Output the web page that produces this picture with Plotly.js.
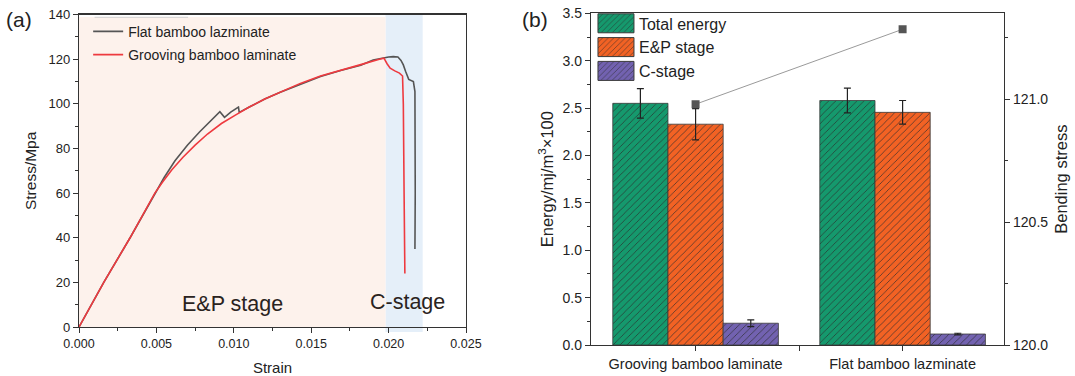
<!DOCTYPE html>
<html>
<head>
<meta charset="utf-8">
<script src="https://cdn.plot.ly/plotly-3.0.1.min.js"></script>
<style>
  html, body { margin: 0; padding: 0; background: #fff; }
  #chart { width: 1075px; height: 376px; }
</style>
</head>
<body>
<div id="chart"></div>
<script>
// ---- (a) stress-strain curves ----
const flatStrain = [0, 0.0016, 0.0033, 0.0049, 0.0055, 0.0062, 0.0070, 0.0078, 0.0085, 0.0091, 0.0094, 0.0098, 0.0103,
  0.01035, 0.0110, 0.0120, 0.0130, 0.0143, 0.0156, 0.0169, 0.0182, 0.0190, 0.0196, 0.0200, 0.0203, 0.0206, 0.0208,
  0.02095, 0.0211, 0.0213, 0.0216, 0.0217, 0.02172, 0.0217];
const flatStress = [0, 20, 40, 60, 67, 74.5, 81.5, 87.5, 92.3, 96.5, 94, 96.3, 98.6,
  96.2, 98.6, 102.2, 105.2, 108.9, 112.3, 115, 117.3, 119.7, 120.6, 121, 121.2, 121, 119.5,
  117.5, 114.5, 111, 110, 105.5, 60, 35];

const grooveStrain = [0, 0.0016, 0.0033, 0.0049, 0.0054, 0.0060, 0.0067, 0.0075, 0.0083, 0.0092, 0.0101, 0.0110,
  0.0120, 0.0130, 0.0143, 0.0156, 0.0169, 0.0182, 0.0194, 0.0197, 0.0199, 0.0201, 0.0204, 0.0207, 0.0209,
  0.02095, 0.0210, 0.02105];
const grooveStress = [0, 20, 40, 60, 65, 70.5, 76, 81.5, 86.5, 91.2, 95, 98.6,
  102.2, 105.4, 109.2, 112.5, 115.2, 117.6, 120, 120.5, 118, 116, 114.8, 113.8, 112.5,
  100, 60, 24];

// stage boundaries on the strain axis
const epStage = [0, 0.0198];
const cStage = [0.0198, 0.0222];

// ---- (b) energy bars and bending stress ----
const specimens = ['Grooving bamboo laminate', 'Flat bamboo lazminate'];
const totalEnergy = [2.55, 2.58];
const totalErr = [0.155, 0.13];
const epEnergy = [2.33, 2.455];
const epErr = [0.165, 0.125];
const cEnergy = [0.23, 0.116];
const cErr = [0.036, 0.008];
const bendingStress = [120.98, 121.285];

const FONT = 'Arial, "Liberation Sans", Helvetica, sans-serif';
const xIdx = specimens.map((_, i) => i);

function hatch(color) {
  return {
    color: color,
    line: { color: '#3a3a3a', width: 0.8 },
    pattern: { shape: '/', size: 5, solidity: 0.13, fgcolor: '#2b2b2b', bgcolor: color, fillmode: 'replace' }
  };
}
function errs(arr) {
  return { type: 'data', array: arr, visible: true, color: '#222', thickness: 1.2, width: 3.5 };
}

const traces = [
  {
    x: flatStrain, y: flatStress, xaxis: 'x', yaxis: 'y', mode: 'lines', legendgroup: 'flat',
    name: 'Flat bamboo lazminate', line: { color: '#555555', width: 1.6 }, legend: 'legend'
  },
  {
    x: grooveStrain, y: grooveStress, xaxis: 'x', yaxis: 'y', mode: 'lines', legendgroup: 'groove',
    name: 'Grooving bamboo laminate', line: { color: '#ee3a3f', width: 1.6 }, legend: 'legend'
  },
  {
    type: 'bar', x: xIdx, y: totalEnergy, error_y: errs(totalErr), xaxis: 'x2', yaxis: 'y2',
    name: 'Total energy', marker: hatch('#15996d'), legend: 'legend2'
  },
  {
    type: 'bar', x: xIdx, y: epEnergy, error_y: errs(epErr), xaxis: 'x2', yaxis: 'y2',
    name: 'E&P stage', marker: hatch('#f26224'), legend: 'legend2'
  },
  {
    type: 'bar', x: xIdx, y: cEnergy, error_y: errs(cErr), xaxis: 'x2', yaxis: 'y2',
    name: 'C-stage', marker: hatch('#7262b0'), legend: 'legend2'
  },
  {
    x: xIdx, y: bendingStress, xaxis: 'x2', yaxis: 'y3', mode: 'lines+markers',
    line: { color: '#9a9a9a', width: 1 }, marker: { symbol: 'square', size: 8, color: '#555' },
    showlegend: false
  }
];

const axisCommon = {
  showgrid: false, zeroline: false, showline: true, linecolor: '#333', linewidth: 1.2,
  ticks: 'outside', ticklen: 5, tickwidth: 1, tickcolor: '#333',
  tickfont: { family: FONT, size: 13, color: '#222' }, automargin: false
};

const layout = {
  width: 1075, height: 376,
  margin: { l: 0, r: 0, t: 0, b: 0 },
  paper_bgcolor: '#fff', plot_bgcolor: 'rgba(0,0,0,0)',
  font: { family: FONT, color: '#222' },
  barmode: 'group', bargap: 0.2, bargroupgap: 0,
  xaxis: Object.assign({}, axisCommon, {
    domain: [0.0735, 0.4335], anchor: 'y', range: [0, 0.025], dtick: 0.005, tickformat: '.3f',
    mirror: true, minor: { dtick: 0.0025, ticks: 'outside', ticklen: 3, tickcolor: '#333' },
    tickfont: { family: FONT, size: 12.5, color: '#222' },
    title: { text: 'Strain', font: { family: FONT, size: 15 }, standoff: 12 }
  }),
  yaxis: Object.assign({}, axisCommon, {
    domain: [0.1303, 0.961], anchor: 'x', range: [0, 140], dtick: 20, mirror: true,
    minor: { dtick: 10, ticks: 'outside', ticklen: 3, tickcolor: '#333' },
    title: { text: 'Stress/Mpa', font: { family: FONT, size: 15.5 }, standoff: 8 }
  }),
  xaxis2: Object.assign({}, axisCommon, {
    domain: [0.5498, 0.934], anchor: 'y2', range: [-0.505, 1.49],
    tickvals: [0, 0.5, 1], ticktext: [specimens[0], '', specimens[1]], mirror: true,
    tickfont: { family: FONT, size: 14.5, color: '#222' }
  }),
  yaxis2: Object.assign({}, axisCommon, {
    domain: [0.0824, 0.9646], anchor: 'x2', range: [0, 3.5], dtick: 0.5, tickformat: '.1f',
    minor: { dtick: 0.25, ticks: 'outside', ticklen: 3, tickcolor: '#333' },
    tickfont: { family: FONT, size: 14, color: '#222' },
    title: { text: 'Energy/mj/m<sup>3</sup>×100', font: { family: FONT, size: 16.5 }, standoff: 4 }
  }),
  yaxis3: Object.assign({}, axisCommon, {
    overlaying: 'y2', side: 'right', anchor: 'x2', range: [120, 121.35], dtick: 0.5, tickformat: '.1f',
    minor: { dtick: 0.25, ticks: 'outside', ticklen: 3, tickcolor: '#333' },
    tickfont: { family: FONT, size: 14, color: '#222' },
    title: { text: 'Bending stress', font: { family: FONT, size: 16.5 }, standoff: 8 }
  }),
  legend: {
    x: 0.082, y: 0.958, xanchor: 'left', yanchor: 'top', bgcolor: 'rgba(0,0,0,0)',
    font: { family: FONT, size: 14, color: '#222' }, itemwidth: 30, tracegroupgap: 2,
    traceorder: 'grouped'
  },
  legend2: {
    x: 0.5516, y: 0.983, xanchor: 'left', yanchor: 'top', bgcolor: 'rgba(0,0,0,0)',
    font: { family: FONT, size: 16, color: '#222' }, itemwidth: 36, tracegroupgap: 0
  },
  shapes: [
    {
      type: 'rect', xref: 'x', yref: 'y', x0: epStage[0], x1: epStage[1], y0: 0, y1: 139,
      fillcolor: '#fdf2ec', line: { width: 0 }, layer: 'below'
    },
    {
      type: 'rect', xref: 'x', yref: 'paper', x0: cStage[0], x1: cStage[1], y0: 0.117, y1: 0.961,
      fillcolor: '#e5eff9', line: { width: 0 }, layer: 'below'
    },
    // faint frame edge left above the legend entries
    {
      type: 'line', xref: 'paper', yref: 'paper', x0: 0.088, x1: 0.175, y0: 0.954, y1: 0.954,
      line: { color: '#d0d0d0', width: 1 }
    }
  ],
  annotations: [
    { xref: 'x', yref: 'y', x: (epStage[0] + epStage[1]) / 2, y: 10.5, text: 'E&P stage', showarrow: false,
      font: { family: FONT, size: 21.5, color: '#2a2320' } },
    { xref: 'x', yref: 'y', x: 0.02125, y: 11, text: 'C-stage', showarrow: false,
      font: { family: FONT, size: 21.5, color: '#2a2320' } },
    { xref: 'paper', yref: 'paper', x: 0.004, y: 0.985, xanchor: 'left', yanchor: 'top', text: '(a)',
      showarrow: false, font: { family: FONT, size: 21, color: '#222' } },
    { xref: 'paper', yref: 'paper', x: 0.484, y: 0.985, xanchor: 'left', yanchor: 'top', text: '(b)',
      showarrow: false, font: { family: FONT, size: 21, color: '#222' } }
  ]
};

// bar legend entries get wider, taller swatches
function enlargeSwatches(gd) {
  gd.querySelectorAll('g.legendpoints path').forEach(function (p) {
    const d = (p.getAttribute('d') || '').replace(/\s/g, '');
    if (d === 'M6,6H-6V-6H6Z') {
      p.setAttribute('d', 'M18,9.5H-18V-9.5H18Z');
      p.style.strokeWidth = '1px';
      p.style.stroke = '#3a3a3a';
    }
  });
}

const gdEl = document.getElementById('chart');
Plotly.newPlot(gdEl, traces, layout, { staticPlot: true, displayModeBar: false }).then(function () {
  enlargeSwatches(gdEl);
  setTimeout(function () { enlargeSwatches(gdEl); }, 0);
});
</script>
</body>
</html>
